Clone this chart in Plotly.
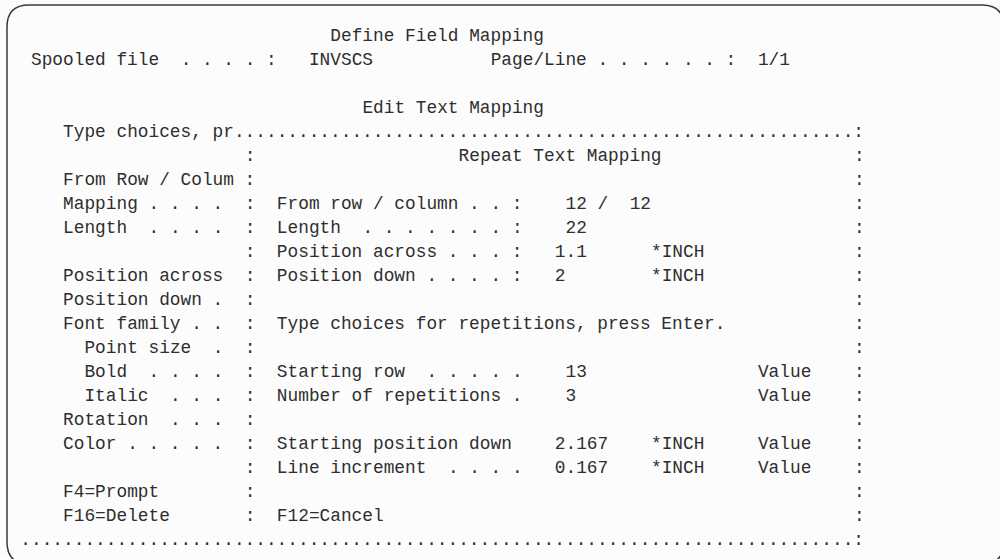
import re
import plotly.graph_objects as go

# ---------------- screen content (80-column 5250 panel) ----------------
panel_title = "Define Field Mapping"
spooled_label = "Spooled file  . . . . :"
spooled_file = "INVSCS"
page_label = "Page/Line . . . . . . :"
page_line = "1/1"
window_title = "Edit Text Mapping"
window_prompt = "Type choices, pr"
popup_title = "Repeat Text Mapping"

left_labels = ["From Row / Colum", "Mapping . . . .", "Length  . . . .", "",
               "Position across", "Position down .", "Font family . .",
               "  Point size  .", "  Bold  . . . .", "  Italic  . . .",
               "Rotation  . . .", "Color . . . . .", "", "F4=Prompt", "F16=Delete"]
inner_prompts = ["", "From row / column . . :", "Length  . . . . . . . :",
                 "Position across . . . :", "Position down . . . . :", "",
                 "Type choices for repetitions, press Enter.", "",
                 "Starting row  . . . . .", "Number of repetitions .", "",
                 "Starting position down", "Line increment  . . . .", "", "F12=Cancel"]
inner_values = ["", " 12 /  12", " 22", "1.1", "2", "", "", "",
                " 13", " 3", "", "2.167", "0.167", "", ""]
inner_units = ["", "", "", "*INCH", "*INCH", "", "", "", "", "", "",
               "*INCH", "*INCH", "", ""]
inner_hints = ["", "", "", "", "", "", "", "", "Value", "Value", "",
               "Value", "Value", "", ""]

# ---------------- compose the screen rows ----------------
screen = []
screen.append(" " * 29 + panel_title)
screen.append(" " + spooled_label + "   " + spooled_file + " " * 11 + page_label + "  " + page_line)
screen.append("")
screen.append(" " * 32 + window_title)
screen.append("    " + window_prompt + "." * 58 + ":")
screen.append(" " * 21 + ":" + (" " * 19 + popup_title).ljust(56) + ":")
for lab, pr, val, un, hi in zip(left_labels, inner_prompts, inner_values, inner_units, inner_hints):
    inner = (pr.ljust(26) + val.ljust(9) + un.ljust(10) + hi).rstrip()
    screen.append("    " + lab.ljust(17) + ":" + "  " + inner.ljust(54) + ":")
screen.append("." * 78 + ":")

# split rows into text runs, keeping their column
seg_x, seg_y, seg_t = [], [], []
for r, line in enumerate(screen):
    for m in re.finditer(r"\S+(?: \S+)*", line):
        seg_x.append(m.start())
        seg_y.append(r)
        seg_t.append(m.group(0))

# ---------------- geometry / style ----------------
W, H = 1000, 559
CHAR_W = 10.69      # px per column
ROW_H = 24.0        # px per row
X0 = 20.3           # px of column 0 left edge
Y0 = 36.5           # px of row 0 centre
FONT = "Liberation Mono, DejaVu Sans Mono, monospace"
FS = CHAR_W / 0.6

fig = go.Figure()
fig.add_trace(go.Scatter(
    x=seg_x, y=seg_y, text=seg_t, mode="text",
    textposition="middle right",
    textfont=dict(family=FONT, size=FS, color="#2e2e2e"),
    hoverinfo="skip", cliponaxis=False, showlegend=False,
))

# rounded frame of the screen
L, T, R, B, rad = 7.0, 5.0, 1004.0, 564.0, 22.0
def P(px, py):
    return f"{px / W:.5f},{1 - py / H:.5f}"
path = (f"M {P(L, T + rad)} L {P(L, B - rad)} Q {P(L, B)} {P(L + rad, B)} "
        f"L {P(R - rad, B)} Q {P(R, B)} {P(R, B - rad)} L {P(R, T + rad)} "
        f"Q {P(R, T)} {P(R - rad, T)} L {P(L + rad, T)} Q {P(L, T)} {P(L, T + rad)} Z")
fig.add_shape(type="path", path=path, xref="paper", yref="paper",
              line=dict(color="#3a3a3a", width=1.5), layer="below")

fig.update_layout(
    width=W, height=H, autosize=False,
    margin=dict(l=0, r=0, t=0, b=0, pad=0),
    paper_bgcolor="#fcfcfc", plot_bgcolor="#fcfcfc",
    xaxis=dict(visible=False, range=[-X0 / CHAR_W, (W - X0) / CHAR_W], fixedrange=True),
    yaxis=dict(visible=False, range=[(H - Y0) / ROW_H, -Y0 / ROW_H], fixedrange=True),
    hovermode=False, showlegend=False,
)

fig.write_html("out.html", config={"displayModeBar": False},
               post_script="document.body.style.margin='0';document.body.style.overflow='hidden';")
